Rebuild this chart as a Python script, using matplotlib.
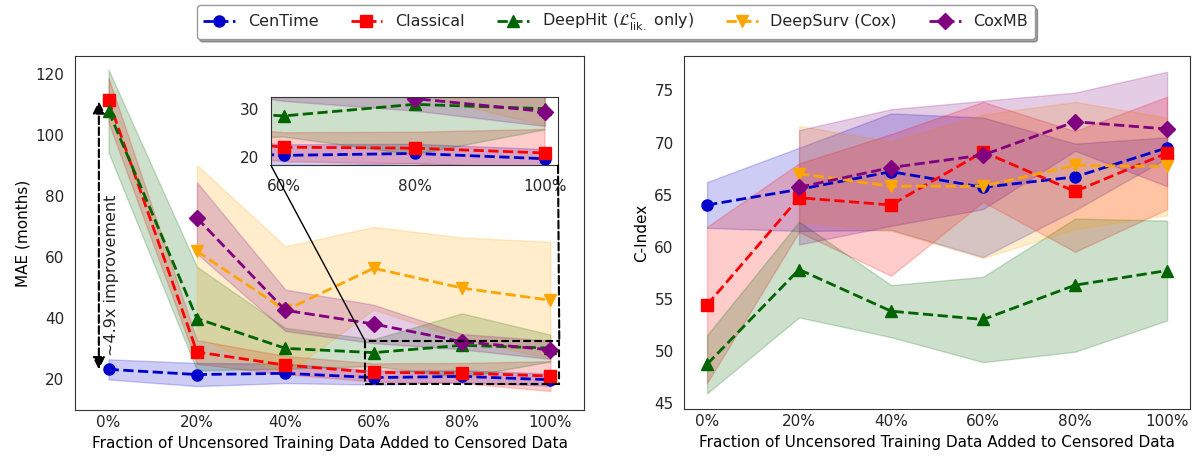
import numpy as np
import matplotlib
matplotlib.use('Agg')
import matplotlib.pyplot as plt
from matplotlib.patches import Rectangle, ConnectionPatch

# x axis: fraction of uncensored training data added
x_labels = ['0%', '20%', '40%', '60%', '80%', '100%']
x_all = [0, 1, 2, 3, 4, 5]
x_late = [1, 2, 3, 4, 5]

# MAE (months), mean and std
centime_mae = [23.0, 21.3, 21.7, 20.3, 20.7, 19.6]
centime_mae_std = [3.3, 3.8, 3.2, 2.3, 2.0, 2.0]
classical_mae = [111.4, 28.7, 24.4, 22.0, 21.8, 20.8]
classical_mae_std = [7.3, 3.9, 3.0, 3.0, 3.3, 4.9]
deephit_mae = [107.8, 39.7, 29.9, 28.5, 30.9, 30.0]
deephit_mae_std = [13.6, 17.0, 6.7, 4.4, 10.5, 4.4]
deepsurv_mae = [61.8, 42.4, 56.2, 49.7, 45.7]
deepsurv_mae_std = [28.3, 21.0, 13.6, 16.6, 19.2]
coxmb_mae = [72.7, 42.4, 37.9, 32.1, 29.4]
coxmb_mae_std = [11.7, 6.8, 6.3, 2.5, 3.0]

# C-Index, mean and std
centime_c = [64.0, 65.5, 67.2, 65.7, 66.7, 69.5]
centime_c_std = [2.2, 4.0, 5.6, 6.7, 3.2, 1.0]
classical_c = [54.4, 64.7, 64.0, 69.1, 65.3, 69.0]
classical_c_std = [7.5, 3.3, 6.8, 4.8, 5.8, 5.4]
deephit_c = [48.7, 57.8, 53.8, 53.0, 56.3, 57.7]
deephit_c_std = [2.8, 4.6, 2.5, 4.1, 6.4, 4.8]
deepsurv_c = [67.0, 65.8, 65.8, 67.8, 67.7]
deepsurv_c_std = [4.6, 4.3, 6.9, 6.1, 4.7]
coxmb_c = [65.7, 67.6, 68.8, 72.0, 71.3]
coxmb_c_std = [5.5, 5.6, 5.2, 2.8, 5.5]

labels = ['CenTime', 'Classical', r'DeepHit ($\mathcal{L}^{\mathrm{c}}_{\mathrm{lik.}}$ only)',
          'DeepSurv (Cox)', 'CoxMB']
colors = ['#0000cc', 'red', 'darkgreen', 'orange', 'purple']
markers = ['o', 's', '^', 'v', 'D']

mae_series = [(x_all, centime_mae, centime_mae_std),
              (x_all, classical_mae, classical_mae_std),
              (x_all, deephit_mae, deephit_mae_std),
              (x_late, deepsurv_mae, deepsurv_mae_std),
              (x_late, coxmb_mae, coxmb_mae_std)]
c_series = [(x_all, centime_c, centime_c_std),
            (x_all, classical_c, classical_c_std),
            (x_all, deephit_c, deephit_c_std),
            (x_late, deepsurv_c, deepsurv_c_std),
            (x_late, coxmb_c, coxmb_c_std)]

plt.rcParams['font.family'] = 'DejaVu Sans'
plt.rcParams['font.size'] = 11
plt.rcParams['axes.edgecolor'] = '#333333'
plt.rcParams['text.color'] = '#262626'
plt.rcParams['xtick.color'] = '#262626'
plt.rcParams['ytick.color'] = '#262626'


def draw(ax, series):
    handles = []
    for (xs, m, s), lab, col, mk in zip(series, labels, colors, markers):
        m = np.array(m)
        s = np.array(s)
        ax.fill_between(xs, m - s, m + s, color=col, alpha=0.2)
        h, = ax.plot(xs, m, linestyle='--', marker=mk, color=col, lw=2,
                     markersize=8, label=lab)
        handles.append(h)
    return handles


fig = plt.figure(figsize=(11.98, 4.62), dpi=100)
ax1 = fig.add_axes([0.0626, 0.1115, 0.4249, 0.768])
ax2 = fig.add_axes([0.571, 0.1137, 0.4224, 0.7658])

handles = draw(ax1, mae_series)
ax1.set_xlim(-0.38, 5.38)
ax1.set_ylim(9.5, 126)
ax1.set_yticks([20, 40, 60, 80, 100, 120])
ax1.set_xticks(x_all)
ax1.set_xticklabels(x_labels)
ax1.set_ylabel('MAE (months)')
ax1.set_xlabel('Fraction of Uncensored Training Data Added to Censored Data')

# improvement arrow
ax1.annotate('', xy=(-0.11, 111), xytext=(-0.11, 23),
             arrowprops=dict(arrowstyle='<|-|>', linestyle='--', color='black',
                             lw=1.5, mutation_scale=18, shrinkA=0, shrinkB=0))
ax1.text(0.03, 54, '~4.9x improvement', rotation=90, ha='center', va='center',
         fontsize=11.5)

# zoomed inset
axins = fig.add_axes([0.2262, 0.6418, 0.2396, 0.148])
draw(axins, mae_series)
axins.set_xlim(2.9, 5.1)
axins.set_ylim(18.2, 32.4)
axins.set_xticks([3, 4, 5])
axins.set_xticklabels(['60%', '80%', '100%'])
axins.set_yticks([20, 30])
for sp in axins.spines.values():
    sp.set_color('#333333')

ax1.add_patch(Rectangle((2.9, 18.2), 2.2, 14.2, fill=False, edgecolor='black',
                        linestyle='--', lw=1.5, zorder=5))
con1 = ConnectionPatch(xyA=(2.9, 18.2), coordsA=axins.transData,
                       xyB=(2.9, 32.4), coordsB=ax1.transData,
                       color='black', lw=1)
con2 = ConnectionPatch(xyA=(5.1, 18.2), coordsA=axins.transData,
                       xyB=(5.1, 32.4), coordsB=ax1.transData,
                       color='black', lw=1.5, linestyle='--')
fig.add_artist(con1)
fig.add_artist(con2)

draw(ax2, c_series)
ax2.set_xticks(x_all)
ax2.set_xticklabels(x_labels)
ax2.set_yticks([45, 50, 55, 60, 65, 70, 75])
ax2.set_ylabel('C-Index')
ax2.set_xlabel('Fraction of Uncensored Training Data Added to Censored Data')

for ax in (ax1, ax2):
    ax.tick_params(length=0)
    ax.tick_params(axis='y', pad=7.5)
axins.tick_params(length=0)
axins.tick_params(axis='x', pad=9.5)
axins.tick_params(axis='y', pad=8.5)

fig.legend(handles=handles, loc='upper center', bbox_to_anchor=(0.514, 1.006),
           ncol=5, shadow=True, fontsize=11.5, frameon=True, edgecolor='#999999',
           columnspacing=2.0)

fig.savefig('out.png', dpi=100)
